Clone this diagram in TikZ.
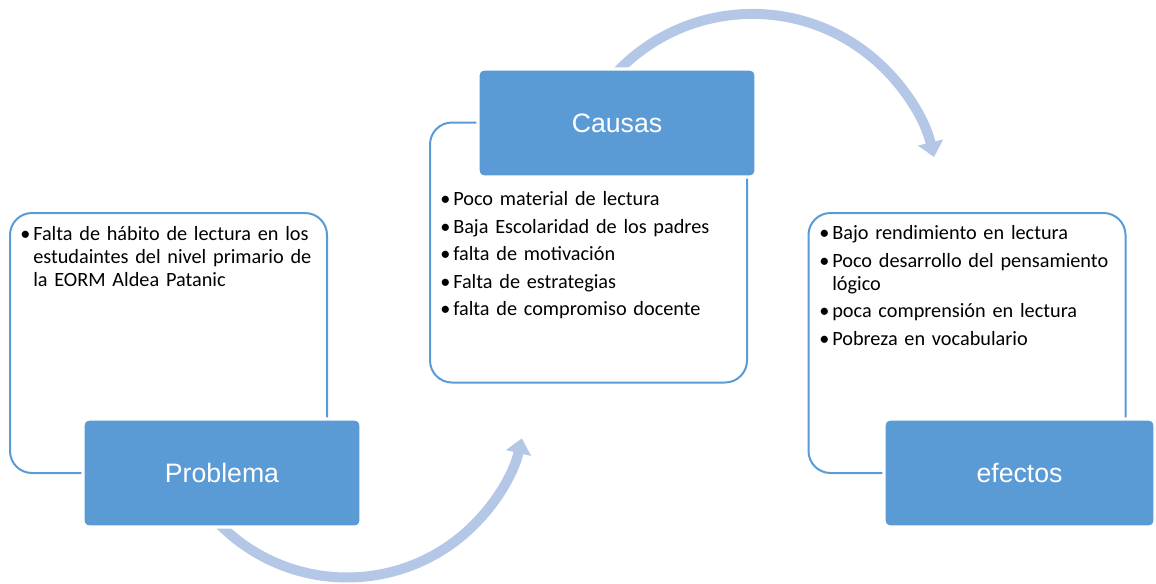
\documentclass[tikz,border=0pt]{standalone}
\usepackage{fontspec}
\setmainfont{Carlito}
\newfontfamily\boxfont{Liberation Sans}
\usetikzlibrary{arrows.meta}
\definecolor{boxblue}{HTML}{5B9BD5}
\definecolor{linkblue}{HTML}{B4C7E7}
\newcommand\bul[1]{\par\hangindent=9.75pt\hangafter=1\noindent\makebox[9.75pt][l]{\textbullet}#1\par\vspace{3.4pt}}

\begin{document}
\begin{tikzpicture}[x=0.75pt,y=0.75pt,
    listbox/.style={draw=boxblue,line width=1.5pt,rounded corners=16.5pt,minimum width=237.75pt,minimum height=195pt,inner sep=0pt},
    headbox/.style={fill=boxblue,draw=white,line width=2.5pt,rounded corners=4.5pt,minimum width=208.5pt,minimum height=81pt,text=white,font=\boxfont\fontsize{20pt}{24pt}\selectfont},
    listtext/.style={anchor=north west,inner sep=0pt,text width=250pt,align=left,font=\fontsize{15.2pt}{17.25pt}\selectfont},
    flow/.style={linkblue,line width=7.5pt,-{Triangle[width=18.75pt,length=11.25pt]}}]
    \useasboundingbox (0,0) rectangle (1156,-583);
    % curved arrows
    \coordinate (lowarc) at (347,-398);
    \coordinate (higharc) at (752.4,-200.7);
    \draw[flow] (lowarc) ++(-138:134.6pt) arc[start angle=-138,end angle=-13,radius=134.6pt];
    \draw[flow] (higharc) ++(140:140.1pt) arc[start angle=140,end angle=13.5,radius=140.1pt];
    % list frames
    \node[listbox] (probbox) at (168.5,-343) {};
    \node[listbox] (causbox) at (588.5,-252.5) {};
    \node[listbox] (efecbox) at (967,-343) {};
    % headings
    \node[headbox] (prob) at (222,-473) {Problema};
    \node[headbox] (caus) at (617,-123) {Causas};
    \node[headbox,minimum width=203.25pt] (efec) at (1019.5,-473) {efectos};
    % lists
    \node[listtext] (probtext) at (20,-217.5) {\bul{Falta de hábito de lectura en los\break estudaintes del nivel primario de\break la EORM Aldea Patanic}};
    \node[listtext] (caustext) at (440,-182.5) {\bul{Poco material de lectura}\bul{Baja Escolaridad de los padres}\bul{falta de motivación}\bul{Falta de estrategias}\bul{falta de compromiso docente}};
    \node[listtext] (efectext) at (819,-216.5) {\bul{Bajo rendimiento en lectura}\bul{Poco desarrollo del pensamiento\break lógico}\bul{poca comprensión en lectura}\bul{Pobreza en vocabulario}};
\end{tikzpicture}
\end{document}
